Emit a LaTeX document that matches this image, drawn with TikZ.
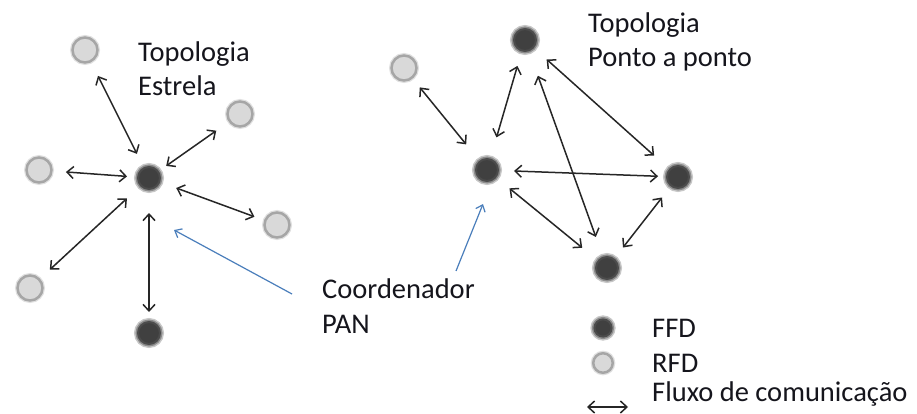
\documentclass[tikz,border=0pt]{standalone}
\usepackage{fontspec}
\setmainfont{Carlito}
\usetikzlibrary{arrows.meta,calc}

\definecolor{ffdcore}{HTML}{404040}
\definecolor{rfdfill}{HTML}{D9D9D9}
\definecolor{rfdline}{HTML}{A6A6A6}
\definecolor{pointer}{HTML}{4A7EBB}
\definecolor{ink}{HTML}{15151C}

% arrow between two named nodes, each end pulled back by its own distance
\newcommand\flowlink[4]{\draw[flow] ($(#1)!#2!(#3)$) -- ($(#3)!#4!(#1)$);}

\begin{document}
\begin{tikzpicture}[x=1pt,y=-1pt,
  ffd/.style={circle, inner sep=0pt, minimum size=22pt, fill=ffdcore,
    draw=black!70, line width=2pt,
    preaction={draw=black!22, line width=8pt},
    preaction={draw=black!45, line width=5pt}},
  rfd/.style={circle, inner sep=0pt, minimum size=25pt, fill=rfdfill,
    draw=rfdline, line width=2.5pt,
    preaction={draw=black!12, line width=5pt}},
  keyshape/.style={transform shape, scale=0.78},
  flow/.style={draw=black!85, line width=1.5pt,
    {Straight Barb[length=6.5pt,width=12pt]}-{Straight Barb[length=6.5pt,width=12pt]}},
  pointer/.style={draw=pointer, line width=1.2pt,
    -{Straight Barb[length=6pt,width=10pt]}},
  txt/.style={anchor=base west, inner sep=0pt, text=ink,
    font=\fontsize{28.5}{34}\selectfont}
]
\useasboundingbox[fill=white] (0,0) rectangle (917,414);

% star topology
\node[rfd] (s1) at (85,50) {};
\node[rfd] (s2) at (240,114) {};
\node[rfd] (s3) at (39,170) {};
\node[ffd] (sc) at (149,178) {};
\node[rfd] (s4) at (277,225) {};
\node[rfd] (s5) at (30,288) {};
\node[ffd] (s6) at (149,333) {};

\flowlink{s1}{29pt}{sc}{27pt}
\flowlink{s2}{29pt}{sc}{21pt}
\flowlink{s3}{27pt}{sc}{22pt}
\flowlink{s5}{27pt}{sc}{30pt}
\flowlink{s4}{24pt}{sc}{29pt}
\flowlink{s6}{21pt}{sc}{35pt}

\node[txt] (st1) at (138,62) {Topologia};
\node[txt] (st2) at (138,96) {Estrela};

% peer-to-peer topology
\node[rfd] (p1) at (404,68) {};
\node[ffd] (p2) at (525,40) {};
\node[ffd] (pc) at (487,170) {};
\node[ffd] (p3) at (678,177) {};
\node[ffd] (p4) at (607,268) {};

\flowlink{p1}{25pt}{pc}{33pt}
\flowlink{p2}{27pt}{pc}{34pt}
\flowlink{p2}{29pt}{p3}{32pt}
\flowlink{p2}{38pt}{p4}{33pt}
\flowlink{pc}{27pt}{p3}{20pt}
\flowlink{pc}{29pt}{p4}{32pt}
\flowlink{p4}{26pt}{p3}{26pt}

\node[txt] (pt1) at (588,33) {Topologia};
\node[txt] (pt2) at (588,67) {Ponto a ponto};

% coordinator label and its pointers
\node[txt] (co) at (322,298) {Coordenador};
\node[txt] (pan) at (322,333) {PAN};
\coordinate (ptrA) at ($(co.base west)+(-30,-4)$);
\coordinate (ptrB) at ($(co.base west)+(134,-27)$);
\draw[pointer] (ptrA) -- ($(sc)+(25,52)$);
\draw[pointer] (ptrB) -- ($(pc)+(-4,34)$);

% legend
\node[ffd, keyshape] (kf) at (603,328) {};
\node[rfd, keyshape] (kr) at (603,363) {};
\coordinate (ka) at (587,407);
\coordinate (kb) at (628,407);
\draw[flow] (ka) -- (kb);
\node[txt] (kft) at (652,337) {FFD};
\node[txt] (krt) at (652,372) {RFD};
\node[txt] (kat) at (652,401) {Fluxo de comunicação};
\end{tikzpicture}
\end{document}
